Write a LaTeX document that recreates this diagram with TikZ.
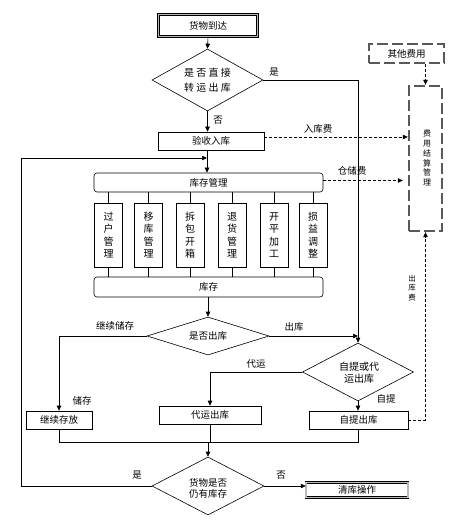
\documentclass[tikz,border=0pt]{standalone}
\usepackage{fontspec}
\setmainfont{Noto Sans CJK SC}
\usetikzlibrary{shapes.geometric,arrows.meta}
\begin{document}
\begin{tikzpicture}[x=1pt,y=-1pt,
  every node/.style={font=\fontsize{9.5}{11}\selectfont},
  >={Triangle[length=5pt,width=4.5pt]},
  line/.style={line width=0.6pt},
  box/.style={draw,line width=0.6pt,inner sep=0pt,minimum height=18pt},
  rbox/.style={box,rounded corners=3pt},
  dbox/.style={draw,line width=0.5pt,double=gray!55,double distance=1.6pt,inner sep=0pt},
  dashbox/.style={draw=black!65,line width=2.4pt,dash pattern=on 11pt off 4pt,inner sep=0pt},
  dashinner/.style={draw=white,line width=0.9pt,dash pattern=on 11pt off 4pt},
  dia/.style={draw,diamond,line width=0.6pt,inner sep=0pt},
  vbox/.style={box,minimum width=28pt,minimum height=64pt,align=center,font=\fontsize{10}{12.5}\selectfont},
  lab/.style={inner sep=0pt},
  fee/.style={line width=0.6pt,dash pattern=on 3pt off 2pt,->}
]
\useasboundingbox (0,0) rectangle (458,521);

% nodes
\node[dbox,minimum width=99pt,minimum height=22pt] (arrive) at (208,25.5) {货物到达};
\node[dia,minimum width=111pt,minimum height=62pt] (d1) at (207.5,80) {};
\node[align=center,font=\fontsize{10}{15}\selectfont] at (d1) {是 否 直 接\\转 运 出 库};
\node[box,minimum width=106pt] (accept) at (211,141) {验收入库};
\node[rbox,minimum width=229pt,minimum height=19pt] (mgmt) at (208.5,182.5) {库存管理};

\node[vbox] (b1) at (108.5,235) {过\\户\\管\\理};
\node[vbox] (b2) at (148.5,235) {移\\库\\管\\理};
\node[vbox] (b3) at (190,235) {拆\\包\\开\\箱};
\node[vbox] (b4) at (232,235) {退\\货\\管\\理};
\node[vbox] (b5) at (274,235) {开\\平\\加\\工};
\node[vbox] (b6) at (313,235) {损\\益\\调\\整};

\node[rbox,minimum width=229pt,minimum height=20pt] (stock) at (208.5,287) {库存};
\node[dia,minimum width=122pt,minimum height=38pt] (d2) at (208,336) {};
\node at (d2) {是否出库};
\node[dia,minimum width=111pt,minimum height=58pt] (d3) at (358,372) {};
\node[align=center,font=\fontsize{10}{12}\selectfont] at (359,372.5) {自提或代\\运出库};
\node[box,minimum width=66pt] (cont) at (59,420) {继续存放};
\node[box,minimum width=102pt] (daiyun) at (210,415) {代运出库};
\node[box,minimum width=99pt] (ziti) at (358.5,420) {自提出库};
\node[dia,minimum width=112pt,minimum height=58pt] (d4) at (208,486) {};
\node[align=center,font=\fontsize{9.5}{11}\selectfont] at (208,488) {货物是否\\仍有库存};
\node[dbox,minimum width=102pt,minimum height=15pt] (clear) at (357,490) {清库操作};

\node[dashbox,minimum width=75pt,minimum height=19pt] (other) at (406.5,53.5) {};
\draw[dashinner] (other.south west) rectangle (other.north east);
\node at (other) {其他费用};
\node[dashbox,minimum width=33pt,minimum height=145pt] (fee) at (425.5,158.5) {};
\draw[dashinner] (fee.south west) rectangle (fee.north east);
\node[align=center,font=\fontsize{8}{9.8}\selectfont] at (427,158) {费\\用\\结\\算\\管\\理};

% coordinates
\coordinate (jn) at (207,158);
\coordinate (lx) at (21,158);
\coordinate (m) at (208,442);

% main flow
\draw[line,->] (arrive.south) -- (d1.north);
\draw[line,->] (d1.south) -- (d1.south |- accept.north);
\node[lab] at (218,120) {否};
\draw[line,->] (d1.east) -| (d3.north);
\node[lab] at (274,72) {是};
\draw[line,->] (accept.south -| jn) -- (jn |- mgmt.north);
\draw[line,->] (d4.west) -| (lx) -- (jn);
\node[lab] at (137,475) {是};

\foreach \b in {b1,b2,b3,b4,b5,b6}{
  \draw[line] (mgmt.south -| \b.north) -- (\b.north);
  \draw[line] (\b.south) -- (\b.south |- stock.north);
}
\draw[line,->] (stock.south -| d2.north) -- (d2.north);
\draw[line,->] (d2.west) -| (cont.north);
\node[lab] at (115,326) {继续储存};
\node[lab] at (82,401) {储存};
\draw[line,->] (d2.east) -- (d2.east -| d3.north);
\node[lab] at (294,327) {出库};
\draw[line,->] (d3.west) -| (daiyun.north);
\node[lab] at (256,364) {代运};
\draw[line,->] (d3.south) -- (d3.south |- ziti.north);
\node[lab] at (386,399) {自提};

\draw[line] (cont.south) |- (m);
\draw[line] (daiyun.south) -- (daiyun.south |- m);
\draw[line] (ziti.south) |- (m);
\draw[line,->] (m) -- (d4.north);
\draw[line,->] (d4.east) -- (d4.east -| clear.west);
\node[lab] at (281,475) {否};

% fee arrows
\draw[fee] ([yshift=4pt]accept.east) -- ([yshift=4pt]accept.east -| fee.west);
\node[lab] at (318,129) {入库费};
\draw[fee] ([yshift=2pt]mgmt.east) -- ([yshift=2pt,xshift=-5pt]mgmt.east -| fee.west);
\node[lab] at (352,171) {仓储费};
\draw[fee] (ziti.east) -| (fee.south);
\node[lab,align=center,font=\fontsize{7.5}{9.5}\selectfont] at (412,288) {出\\库\\费};
\draw[fee] (other.south -| fee.north) -- (fee.north);
\end{tikzpicture}
\end{document}
